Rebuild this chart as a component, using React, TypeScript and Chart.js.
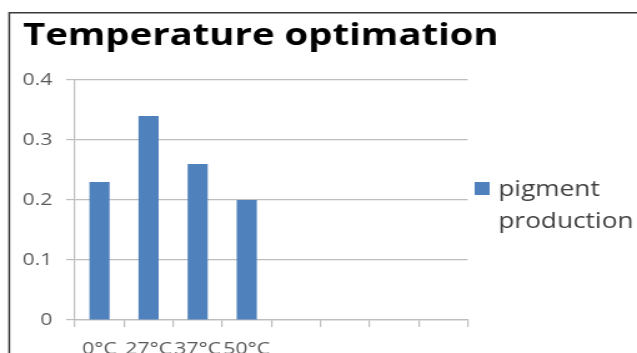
import React, { useEffect, useRef } from 'react';
import { Chart, registerables } from 'chart.js';

Chart.register(...registerables);

const chartTitle = 'Temperature optimation';
const categories = ['0°C', '27°C', '37°C', '50°C', '', '', '', ''];
const pigmentProduction = [0.23, 0.34, 0.26, 0.2];
const seriesLabel = 'pigment production';
const legendLines = ['pigment', 'production'];
const yMin = 0;
const yMax = 0.4;
const yStep = 0.1;

// The reference picture is horizontally stretched; draw on a narrower canvas and stretch it.
const W = 510;
const H = 353;
const SX = 637 / W;
const FONT = '"Open Sans", "DejaVu Sans", sans-serif';
const BAR_COLOR = '#4F81BD';
const GRID = '#BDBDBD';

const decorations = {
  id: 'decorations',
  afterDraw(chart: any) {
    const ctx = chart.ctx as CanvasRenderingContext2D;
    ctx.save();
    // frame
    ctx.strokeStyle = '#3a3a3a';
    ctx.lineWidth = 1.5;
    ctx.beginPath();
    ctx.moveTo(7.4, H + 5);
    ctx.lineTo(7.4, 12.8);
    ctx.lineTo(W + 5, 12.8);
    ctx.stroke();

    // title, fitted to the reference width
    ctx.font = `bold 100px ${FONT}`;
    const w100 = ctx.measureText(chartTitle).width;
    const size = (100 * 381) / w100;
    ctx.font = `bold ${size}px ${FONT}`;
    ctx.fillStyle = '#000000';
    ctx.textAlign = 'left';
    ctx.textBaseline = 'alphabetic';
    ctx.fillText(chartTitle, 18.4, 45);

    // legend
    const ds = chart.data.datasets[0];
    ctx.fillStyle = ds.backgroundColor;
    ctx.fillRect(380, 182, 12, 13);
    ctx.font = `21px ${FONT}`;
    ctx.fillStyle = '#404040';
    ctx.fillText(legendLines[0], 399, 196);
    ctx.fillText(legendLines[1], 399, 228);
    ctx.restore();
  },
};

export default function App() {
  const ref = useRef<HTMLCanvasElement>(null);

  useEffect(() => {
    if (!ref.current) return;
    const chart = new Chart(ref.current, {
      type: 'bar',
      data: {
        labels: categories,
        datasets: [
          {
            label: seriesLabel,
            data: pigmentProduction,
            backgroundColor: BAR_COLOR,
            borderWidth: 0,
            barPercentage: 0.41,
            categoryPercentage: 1,
          },
        ],
      },
      options: {
        animation: false,
        responsive: false,
        maintainAspectRatio: false,
        devicePixelRatio: 1,
        layout: { padding: { left: 0, right: W - 374.4, top: 80, bottom: 0 } },
        plugins: {
          legend: { display: false },
          title: { display: false },
          tooltip: { enabled: false },
        },
        scales: {
          x: {
            offset: true,
            grid: {
              display: true,
              drawOnChartArea: false,
              drawTicks: true,
              tickLength: 7,
              offset: true,
              color: GRID,
              lineWidth: 1.2,
            },
            border: { display: true, color: GRID, width: 1.2 },
            ticks: {
              color: '#595959',
              font: { family: FONT, size: 17 },
              padding: 12,
              maxRotation: 0,
              autoSkip: false,
            },
            afterFit: (scale: any) => {
              scale.height = H - 320;
            },
          },
          y: {
            min: yMin,
            max: yMax,
            grid: {
              color: GRID,
              lineWidth: 1.2,
              tickLength: 7,
              drawTicks: true,
            },
            border: { display: true, color: GRID, width: 1.2 },
            ticks: {
              stepSize: yStep,
              color: '#595959',
              font: { family: FONT, size: 17 },
              padding: 11,
            },
            afterFit: (scale: any) => {
              scale.width = 60;
            },
          },
        },
      },
      plugins: [decorations],
    });
    return () => chart.destroy();
  }, []);

  return (
    <canvas
      ref={ref}
      width={W}
      height={H}
      style={{
        position: 'fixed',
        left: 0,
        top: 0,
        width: W,
        height: H,
        transform: `scaleX(${SX})`,
        transformOrigin: '0 0',
      }}
    />
  );
}
